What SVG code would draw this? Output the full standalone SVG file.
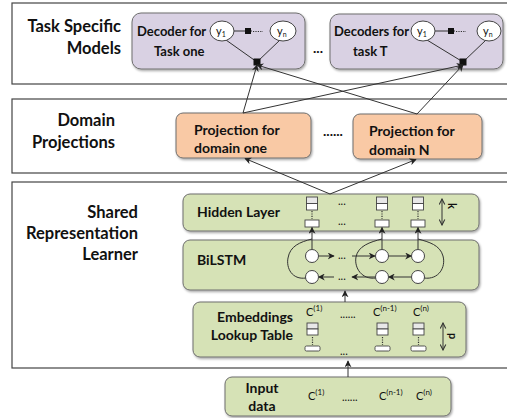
<svg xmlns="http://www.w3.org/2000/svg" width="507" height="418" viewBox="0 0 507 418">
  <defs>
    <filter id="shadow" x="-10%" y="-10%" width="130%" height="140%">
      <feDropShadow dx="1" dy="1.5" stdDeviation="1" flood-color="#000" flood-opacity="0.35"/>
    </filter>
    <marker id="arrow" viewBox="0 0 10 10" refX="9" refY="5" markerWidth="7" markerHeight="7" orient="auto-start-reverse" markerUnits="userSpaceOnUse">
      <path d="M0,0 L10,5 L0,10 L3,5 z" fill="#222"/>
    </marker>
    <marker id="open" viewBox="0 0 10 10" refX="9" refY="5" markerWidth="7" markerHeight="7" orient="auto-start-reverse" markerUnits="userSpaceOnUse">
      <path d="M1,1 L9,5 L1,9" fill="none" stroke="#333" stroke-width="1.5"/>
    </marker>
  </defs>
  <style>
    .frame { fill: #fff; stroke: #444; stroke-width: 1.2; }
    .purple { fill: #d9d1e3; stroke: #6e6e6e; stroke-width: 1; filter: url(#shadow); }
    .peach { fill: #f9c9a5; stroke: #6e6e6e; stroke-width: 1; filter: url(#shadow); }
    .green { fill: #d6e2b6; stroke: #6e6e6e; stroke-width: 1; filter: url(#shadow); }
    .lbl { font-family: Lato, "Liberation Sans", sans-serif; font-weight: bold; font-size: 14px; fill: #111; }
    .ttl { font-family: Lato, "Liberation Sans", sans-serif; font-weight: bold; font-size: 16.5px; fill: #111; }
    .dec { font-family: Lato, "Liberation Sans", sans-serif; font-weight: bold; font-size: 13px; fill: #111; }
    .txt { font-family: Lato, "Liberation Sans", sans-serif; font-size: 11px; fill: #111; }
    .sup { font-family: Lato, "Liberation Sans", sans-serif; font-size: 8px; fill: #111; }
    .node { fill: #fff; stroke: #444; stroke-width: 1; }
    .cell { fill: #fff; stroke: #444; stroke-width: 0.9; }
    .cellg { fill: #e8e8e8; stroke: #444; stroke-width: 0.9; }
    .fac { fill: #111; }
    .edge { fill: none; stroke: #333; stroke-width: 1; }
    .dots { fill: none; stroke: #333; stroke-width: 1.2; stroke-dasharray: 1.2 1.2; }
  </style>

  <!-- section frames -->
  <g id="frames">
    <rect class="frame" x="12" y="3" width="500" height="81"/>
    <rect class="frame" x="12" y="99" width="500" height="74"/>
    <rect class="frame" x="12" y="182" width="500" height="186"/>
  </g>

  <!-- section titles -->
  <g id="titles">
    <text class="ttl" text-anchor="end" x="121" y="32">Task Specific</text>
    <text class="ttl" text-anchor="end" x="121" y="54">Models</text>
    <text class="ttl" text-anchor="end" x="115" y="126">Domain</text>
    <text class="ttl" text-anchor="end" x="115" y="148">Projections</text>
    <text class="ttl" text-anchor="end" x="138" y="218">Shared</text>
    <text class="ttl" text-anchor="end" x="138" y="239">Representation</text>
    <text class="ttl" text-anchor="end" x="138" y="260">Learner</text>
  </g>

  <!-- decoder for task one -->
  <g id="decoder1">
    <rect class="purple" x="132" y="13" width="173" height="56" rx="9"/>
    <text class="dec" x="137" y="36">Decoder for</text>
    <text class="dec" x="154" y="56">Task one</text>
    <line class="edge" x1="226" y1="40" x2="257" y2="62"/>
    <line class="edge" x1="280" y1="40" x2="257" y2="62"/>
    <line class="edge" x1="234" y1="31" x2="252" y2="31"/>
    <line class="dots" x1="253" y1="31.5" x2="263" y2="31.5"/>
    <rect class="fac" x="245" y="28" width="6" height="6"/>
    <ellipse class="node" cx="222" cy="31" rx="12" ry="10"/>
    <ellipse class="node" cx="283" cy="31" rx="13" ry="10"/>
    <text class="txt" x="216" y="35">y<tspan font-size="7" dy="2">1</tspan></text>
    <text class="txt" x="277" y="35">y<tspan font-size="7" dy="2">n</tspan></text>
    <rect class="fac" x="253.5" y="58.5" width="7" height="7"/>
  </g>

  <text class="lbl" x="313" y="53" font-size="10">...</text>

  <!-- decoders for task T -->
  <g id="decoder2">
    <rect class="purple" x="330" y="14" width="173" height="55" rx="9"/>
    <text class="dec" x="334" y="36">Decoders for</text>
    <text class="dec" x="353" y="56">task T</text>
    <line class="edge" x1="427" y1="40" x2="463" y2="62"/>
    <line class="edge" x1="486" y1="40" x2="463" y2="62"/>
    <line class="edge" x1="435" y1="31" x2="455" y2="31"/>
    <line class="dots" x1="456" y1="31.5" x2="466" y2="31.5"/>
    <rect class="fac" x="448" y="28" width="6" height="6"/>
    <ellipse class="node" cx="423" cy="31" rx="12" ry="10"/>
    <ellipse class="node" cx="489" cy="31" rx="12" ry="10"/>
    <text class="txt" x="417" y="35">y<tspan font-size="7" dy="2">1</tspan></text>
    <text class="txt" x="483" y="35">y<tspan font-size="7" dy="2">n</tspan></text>
    <rect class="fac" x="459.5" y="58.5" width="7" height="7"/>
  </g>

  <!-- domain projections -->
  <g id="proj1">
    <rect class="peach" x="176" y="113" width="135" height="45" rx="7"/>
    <text class="lbl" x="194" y="135">Projection for</text>
    <text class="lbl" x="194" y="153">domain one</text>
  </g>
  <text class="lbl" x="323" y="136" font-size="9">......</text>
  <g id="proj2">
    <rect class="peach" x="353" y="114" width="129" height="45" rx="7"/>
    <text class="lbl" x="369" y="136">Projection for</text>
    <text class="lbl" x="369" y="155">domain N</text>
  </g>

  <!-- hidden layer -->
  <g id="hidden">
    <rect class="green" x="183" y="194" width="296" height="37" rx="7"/>
    <text class="lbl" x="197" y="217">Hidden Layer</text>
    <g id="hcol1">
      <rect class="cellg" x="306.5" y="197" width="11" height="6.5"/>
      <rect class="cell" x="306.5" y="203.5" width="11" height="6.5"/>
      <line class="dots" x1="312" y1="211" x2="312" y2="219"/>
      <rect class="cell" x="305" y="220" width="14" height="7"/>
    </g>
    <g id="hcol2">
      <rect class="cellg" x="376.5" y="197" width="11" height="6.5"/>
      <rect class="cell" x="376.5" y="203.5" width="11" height="6.5"/>
      <line class="dots" x1="382" y1="211" x2="382" y2="219"/>
      <rect class="cell" x="375" y="220" width="14" height="7"/>
    </g>
    <g id="hcol3">
      <rect class="cellg" x="412.5" y="197" width="11" height="6.5"/>
      <rect class="cell" x="412.5" y="203.5" width="11" height="6.5"/>
      <line class="dots" x1="418" y1="211" x2="418" y2="219"/>
      <rect class="cell" x="411" y="220" width="14" height="7"/>
    </g>
    <text class="txt" x="338" y="205" font-size="9">...</text>
    <text class="txt" x="338" y="225" font-size="9">...</text>
    <line class="edge" x1="442" y1="199" x2="442" y2="225" marker-start="url(#open)" marker-end="url(#open)"/>
    <text class="txt" transform="translate(448,203) rotate(90)" font-size="12" font-weight="bold">k</text>
  </g>

  <!-- BiLSTM -->
  <g id="bilstm">
    <rect class="green" x="183" y="240" width="296" height="50" rx="7"/>
    <text class="lbl" x="197" y="265">BiLSTM</text>
  </g>

  <!-- embeddings lookup table -->
  <g id="embeddings">
    <rect class="green" x="193" y="302" width="273" height="55" rx="7"/>
    <text class="lbl" text-anchor="end" x="293" y="322">Embeddings</text>
    <text class="lbl" text-anchor="end" x="293" y="340">Lookup Table</text>
    <text class="txt" x="306" y="316">C<tspan class="sup" dy="-5">(1)</tspan></text>
    <text class="txt" x="340" y="318" font-size="9">......</text>
    <text class="txt" x="373" y="316">C<tspan class="sup" dy="-5">(n-1)</tspan></text>
    <text class="txt" x="413" y="316">C<tspan class="sup" dy="-5">(n)</tspan></text>
    <g id="ecol1">
      <rect class="cellg" x="307" y="323" width="11" height="6"/>
      <rect class="cell" x="307" y="329" width="11" height="6"/>
      <line class="dots" x1="312.5" y1="337" x2="312.5" y2="345"/>
      <rect class="cell" x="305" y="346" width="15" height="5" rx="1.5"/>
    </g>
    <g id="ecol2">
      <rect class="cellg" x="377" y="323" width="11" height="6"/>
      <rect class="cell" x="377" y="329" width="11" height="6"/>
      <line class="dots" x1="382.5" y1="337" x2="382.5" y2="345"/>
      <rect class="cell" x="375" y="346" width="15" height="5" rx="1.5"/>
    </g>
    <g id="ecol3">
      <rect class="cellg" x="413" y="323" width="11" height="6"/>
      <rect class="cell" x="413" y="329" width="11" height="6"/>
      <line class="dots" x1="418.5" y1="337" x2="418.5" y2="345"/>
      <rect class="cell" x="411" y="346" width="15" height="5" rx="1.5"/>
    </g>
    <text class="txt" x="340" y="355" font-size="8">...</text>
    <line class="edge" x1="443" y1="323" x2="443" y2="350" marker-start="url(#open)" marker-end="url(#open)"/>
    <text class="txt" transform="translate(449,333) rotate(90)" font-size="12" font-weight="bold">p</text>
  </g>

  <!-- input data -->
  <g id="input">
    <rect class="green" x="225" y="377" width="226" height="39" rx="7"/>
    <text class="lbl" text-anchor="middle" x="262" y="393">Input</text>
    <text class="lbl" text-anchor="middle" x="262" y="411">data</text>
    <text class="txt" x="308" y="400">C<tspan class="sup" dy="-5">(1)</tspan></text>
    <text class="txt" x="342" y="401" font-size="9">......</text>
    <text class="txt" x="379" y="400">C<tspan class="sup" dy="-5">(n-1)</tspan></text>
    <text class="txt" x="416" y="400">C<tspan class="sup" dy="-5">(n)</tspan></text>
  </g>

  <!-- connectors -->
  <g id="connectors">
    <!-- projections to decoder factors -->
    <line class="edge" x1="243" y1="113" x2="257" y2="65" marker-end="url(#arrow)"/>
    <line class="edge" x1="243" y1="113" x2="463" y2="65" marker-end="url(#arrow)"/>
    <line class="edge" x1="417" y1="114" x2="257" y2="65" marker-end="url(#arrow)"/>
    <line class="edge" x1="417" y1="114" x2="463" y2="65" marker-end="url(#arrow)"/>
    <!-- hidden layer to projections -->
    <line class="edge" x1="330" y1="194" x2="245" y2="158.5" marker-end="url(#arrow)"/>
    <line class="edge" x1="330" y1="194" x2="416" y2="159.5" marker-end="url(#arrow)"/>
    <!-- embeddings to BiLSTM, input to embeddings -->
    <line class="edge" x1="345" y1="302" x2="345" y2="291" marker-end="url(#arrow)"/>
    <line class="edge" x1="348" y1="377" x2="348" y2="361" marker-end="url(#arrow)"/>

    <!-- BiLSTM to hidden units -->
    <line class="edge" x1="312" y1="249.5" x2="312" y2="227.5" marker-end="url(#arrow)"/>
    <line class="edge" x1="382" y1="249.5" x2="382" y2="227.5" marker-end="url(#arrow)"/>
    <line class="edge" x1="418" y1="249.5" x2="418" y2="227.5" marker-end="url(#arrow)"/>
    <path class="edge" d="M306,278 C292,280 286,268 288,258 C290,246 300,242 312,239"/>
    <path class="edge" d="M376,278 C362,280 354,268 356,257 C358,246 370,242 382,239"/>
    <path class="edge" d="M424,278 C439,280 446,267 443,256 C440,245 429,242 418,239"/>

    <!-- forward chain -->
    <line class="edge" x1="318.5" y1="256" x2="334" y2="256" marker-end="url(#arrow)"/>
    <line class="edge" x1="352" y1="256" x2="375" y2="256" marker-end="url(#arrow)"/>
    <line class="edge" x1="388.5" y1="256" x2="411.5" y2="256" marker-end="url(#arrow)"/>
    <!-- backward chain -->
    <line class="edge" x1="411.5" y1="277" x2="388.5" y2="277" marker-end="url(#arrow)"/>
    <line class="edge" x1="375.5" y1="277" x2="352" y2="277" marker-end="url(#arrow)"/>
    <line class="edge" x1="334" y1="277" x2="318.5" y2="277" marker-end="url(#arrow)"/>
    <text class="txt" x="338" y="259" font-size="9">...</text>
    <text class="txt" x="338" y="280" font-size="9">...</text>
  </g>

  <!-- BiLSTM cells -->
  <g id="lstm-cells">
    <circle class="node" cx="312" cy="256" r="6.5"/>
    <circle class="node" cx="382" cy="256" r="6.5"/>
    <circle class="node" cx="418" cy="256" r="6.5"/>
    <circle class="node" cx="312" cy="277" r="6.5"/>
    <circle class="node" cx="382" cy="277" r="6.5"/>
    <circle class="node" cx="418" cy="277" r="6.5"/>
  </g>
</svg>
